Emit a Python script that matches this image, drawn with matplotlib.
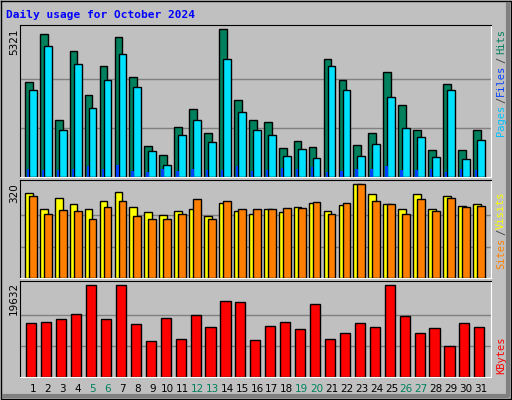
import numpy as np
import matplotlib.pyplot as plt

days = np.arange(1, 32)
weekend = [5, 6, 12, 13, 19, 20, 26, 27]

hits = [3440, 5140, 2040, 4530, 2940, 3990, 5030, 3620, 1130, 810, 1790, 2440, 1570, 5321, 2790, 2040, 2000, 1060, 1310, 1090, 4240, 3490, 1170, 1570, 3800, 2580, 1710, 990, 3370, 990, 1680]
files = [3120, 4710, 1710, 4060, 2500, 3510, 4420, 3260, 920, 450, 1530, 2040, 1280, 4270, 2360, 1680, 1530, 770, 1020, 700, 4020, 3150, 770, 1200, 2900, 1750, 1460, 730, 3150, 660, 1350]
pages = [300, 270, 270, 300, 410, 300, 450, 230, 190, 300, 230, 300, 270, 270, 410, 230, 270, 340, 300, 370, 190, 230, 300, 300, 410, 270, 270, 300, 190, 300, 270]
visits = [289, 234, 272, 251, 234, 261, 292, 240, 223, 213, 226, 234, 209, 254, 226, 219, 234, 223, 240, 254, 226, 247, 320, 285, 251, 234, 285, 234, 278, 244, 251]
sites = [278, 216, 230, 226, 202, 240, 261, 209, 202, 202, 219, 268, 199, 261, 234, 234, 234, 237, 237, 257, 219, 254, 320, 261, 251, 219, 268, 226, 272, 240, 244]
kbytes = [11530, 11750, 12390, 13470, 19490, 12390, 19632, 11320, 7740, 12610, 8170, 13250, 10680, 16270, 16050, 7950, 10890, 11750, 10240, 15630, 8170, 9460, 11530, 10680, 19632, 13040, 9460, 10460, 6660, 11530, 10680]

BG = '#c0c0c0'
W, H = 512, 400
fig = plt.figure(figsize=(W / 100, H / 100), dpi=100, facecolor=BG)

x0, x1 = 20, 491
panels = [(25, 177), (180, 278), (281, 377)]
xlim = (0.13, 31.67)


def make_ax(top, bot, vmax, frac):
    ax = fig.add_axes([x0 / W, 1 - bot / H, (x1 - x0) / W, (bot - top) / H])
    ax.set_facecolor(BG)
    ax.set_xlim(*xlim)
    ax.set_ylim(0, vmax * frac)
    for g in (vmax / 3, 2 * vmax / 3):
        ax.axhline(g, color='#808080', lw=1, zorder=0)
    ax.set_xticks([])
    ax.set_yticks([])
    for s in ('top', 'left'):
        ax.spines[s].set_color('black')
    for s in ('bottom', 'right'):
        ax.spines[s].set_color('white')
    return ax


kw = dict(edgecolor='black', linewidth=1, align='center')

ax1 = make_ax(*panels[0], 5321, 1.03)
ax1.bar(days - 0.28, hits, width=0.52, color='#00805c', zorder=2, **kw)
ax1.bar(days - 0.01, files, width=0.52, color='#00e0ff', zorder=3, **kw)
ax1.bar(days - 0.33, pages, width=0.16, color='#0040ff', zorder=4, edgecolor='none')

ax2 = make_ax(*panels[1], 320, 1.04)
ax2.bar(days - 0.28, visits, width=0.52, color='#ffff00', zorder=2, **kw)
ax2.bar(days - 0.01, sites, width=0.52, color='#ff8000', zorder=3, **kw)

ax3 = make_ax(*panels[2], 19632, 1.04)
ax3.bar(days - 0.11, kbytes, width=0.68, color='#ff0000', zorder=2, **kw)


def ftext(x, y, s, **k):
    fig.text(x / W, 1 - y / H, s, **k)


mono = 'DejaVu Sans Mono'
ftext(6, 15, 'Daily usage for October 2024', color='#0000ff', fontsize=8,
      fontweight='bold', family=mono, va='center')
for y, s in ((42, '5321'), (193, '320'), (298, '19632')):
    ftext(14, y, s, rotation=90, fontsize=7.5, ha='center', va='center')

rk = dict(rotation=90, fontsize=7.5, family=mono, ha='center', va='center')
ftext(501, 42, 'Hits', color='#00805c', **rk)
ftext(501, 60, '/', color='#404040', **rk)
ftext(501, 80, 'Files', color='#0040ff', **rk)
ftext(501, 100, '/', color='#404040', **rk)
ftext(501, 120, 'Pages', color='#00c0ff', **rk)
ftext(501, 210, 'Visits', color='#ffff00', **rk)
ftext(501, 232, '/', color='#404040', **rk)
ftext(501, 253, 'Sites', color='#ff8000', **rk)
ftext(501, 355, 'KBytes', color='#ff0000', **rk)

for d in days:
    xp = x0 + (d - xlim[0]) / (xlim[1] - xlim[0]) * (x1 - x0)
    ftext(xp, 389, str(d), color='#00805c' if d in weekend else 'black',
          fontsize=7.5, ha='center', va='center')

# bevel border
border = fig.add_axes([0, 0, 1, 1], facecolor='none')
border.set_xlim(0, W)
border.set_ylim(H, 0)
border.axis('off')
border.plot([1, W - 1, W - 1], [1, 1, H - 1], color='black', lw=1)
border.plot([1, 1, W - 1], [1, H - 1, H - 1], color='black', lw=1)
border.plot([W - 4, W - 4, 4], [4, H - 4, H - 4], color='#808080', lw=3)

fig.savefig('out.png', dpi=100, facecolor=BG)
